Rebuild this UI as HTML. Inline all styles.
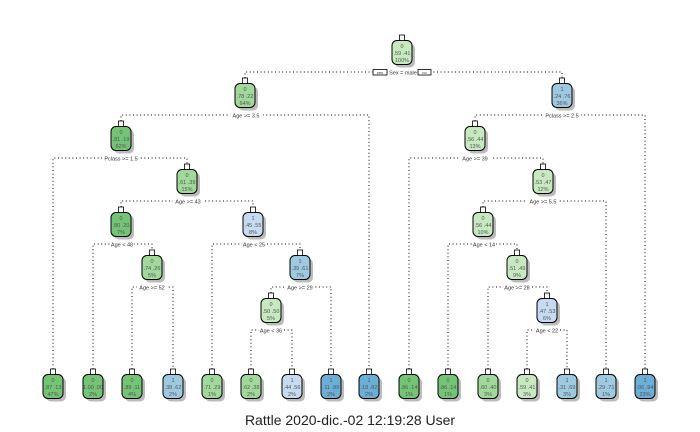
<!DOCTYPE html>
<html><head><meta charset="utf-8"><style>
html,body{margin:0;padding:0;background:#fff;width:700px;height:432px;overflow:hidden}
text{font-family:"Liberation Sans",sans-serif}
.t{font-size:5.5px;fill:#555;text-anchor:middle}
.s{font-size:5.5px;fill:#333;text-anchor:middle}
.e{fill:none;stroke:#000;stroke-width:1;stroke-dasharray:1 2.6}
</style></head><body>
<svg width="700" height="432" viewBox="0 0 700 432" xmlns="http://www.w3.org/2000/svg">
<defs>
<g id="n">
<rect x="-7" y="-8.5" width="20" height="24" rx="5" fill="#bbb"/>
<rect x="-10" y="-11.5" width="20" height="24" rx="5" stroke="#000" stroke-width="1"/>
<rect x="-2.5" y="-17" width="5" height="5.5" fill="#fff" stroke="#000" stroke-width="0.8"/>
</g>
</defs>
<g class="e">
<path d="M245 78V72H562V78"/>
<path d="M121 121V115H369V369"/>
<path d="M475 121V115H645V369"/>
<path d="M53 369V158H187V164"/>
<path d="M121 207V201H253V207"/>
<path d="M93 369V244H152V250"/>
<path d="M132 369V287H173V369"/>
<path d="M212 369V244H300V250"/>
<path d="M271 293V287H331V369"/>
<path d="M251 369V330H292V369"/>
<path d="M409 369V158H543V164"/>
<path d="M483 207V201H606V369"/>
<path d="M448 369V244H517V250"/>
<path d="M488 369V287H547V293"/>
<path d="M527 369V330H567V369"/>
</g>
<g>
<rect x="373" y="69.5" width="14" height="5.5" fill="#fff" stroke="#000" stroke-width="0.8"/>
<rect x="418" y="69.5" width="13" height="5.5" fill="#fff" stroke="#000" stroke-width="0.8"/>
<rect x="389" y="69" width="28" height="7" fill="#fff"/>
<text class="s" x="403" y="74.5">Sex = male</text>
<text x="380" y="74" style="font-size:4px;text-anchor:middle" fill="#333">yes</text>
<text x="424.5" y="74" style="font-size:4px;text-anchor:middle" fill="#333">no</text>
</g>
<g>
<rect x="229" y="112" width="34" height="7" fill="#fff"/><text class="s" x="246" y="117.5">Age &gt;= 3.5</text>
<rect x="543" y="112" width="38" height="7" fill="#fff"/><text class="s" x="562" y="117.5">Pclass &gt;= 2.5</text>
<rect x="102" y="155" width="38" height="7" fill="#fff"/><text class="s" x="121" y="160.5">Pclass &gt;= 1.5</text>
<rect x="459" y="155" width="32" height="7" fill="#fff"/><text class="s" x="475" y="160.5">Age &gt;= 39</text>
<rect x="173" y="198" width="30" height="7" fill="#fff"/><text class="s" x="188" y="203.5">Age &gt;= 43</text>
<rect x="527" y="198" width="32" height="7" fill="#fff"/><text class="s" x="543" y="203.5">Age &gt;= 5.5</text>
<rect x="110" y="241" width="24" height="7" fill="#fff"/><text class="s" x="122" y="246.5">Age &lt; 48</text>
<rect x="242" y="241" width="24" height="7" fill="#fff"/><text class="s" x="254" y="246.5">Age &lt; 25</text>
<rect x="472" y="241" width="24" height="7" fill="#fff"/><text class="s" x="484" y="246.5">Age &lt; 14</text>
<rect x="137" y="284" width="30" height="7" fill="#fff"/><text class="s" x="152" y="289.5">Age &gt;= 52</text>
<rect x="285" y="284" width="30" height="7" fill="#fff"/><text class="s" x="300" y="289.5">Age &gt;= 29</text>
<rect x="502" y="284" width="30" height="7" fill="#fff"/><text class="s" x="517" y="289.5">Age &gt;= 28</text>
<rect x="259" y="327" width="24" height="7" fill="#fff"/><text class="s" x="271" y="332.5">Age &lt; 36</text>
<rect x="535" y="327" width="24" height="7" fill="#fff"/><text class="s" x="547" y="332.5">Age &lt; 22</text>
</g>
<g transform="translate(402,52)"><use href="#n" fill="#c7e9c0"/><text class="t" y="-4">0</text><text class="t" y="3">.59 .41</text><text class="t" y="10">100%</text></g>
<g transform="translate(245,95)"><use href="#n" fill="#a1d99b"/><text class="t" y="-4">0</text><text class="t" y="3">.78 .22</text><text class="t" y="10">64%</text></g>
<g transform="translate(562,95)"><use href="#n" fill="#9ecae1"/><text class="t" y="-4">1</text><text class="t" y="3">.24 .76</text><text class="t" y="10">36%</text></g>
<g transform="translate(121,138)"><use href="#n" fill="#74c476"/><text class="t" y="-4">0</text><text class="t" y="3">.81 .19</text><text class="t" y="10">62%</text></g>
<g transform="translate(475,138)"><use href="#n" fill="#c7e9c0"/><text class="t" y="-4">0</text><text class="t" y="3">.56 .44</text><text class="t" y="10">13%</text></g>
<g transform="translate(187,181)"><use href="#n" fill="#a1d99b"/><text class="t" y="-4">0</text><text class="t" y="3">.61 .39</text><text class="t" y="10">15%</text></g>
<g transform="translate(543,181)"><use href="#n" fill="#c7e9c0"/><text class="t" y="-4">0</text><text class="t" y="3">.53 .47</text><text class="t" y="10">12%</text></g>
<g transform="translate(121,224)"><use href="#n" fill="#74c476"/><text class="t" y="-4">0</text><text class="t" y="3">.80 .20</text><text class="t" y="10">7%</text></g>
<g transform="translate(253,224)"><use href="#n" fill="#c6dbef"/><text class="t" y="-4">1</text><text class="t" y="3">.45 .55</text><text class="t" y="10">8%</text></g>
<g transform="translate(483,224)"><use href="#n" fill="#c7e9c0"/><text class="t" y="-4">0</text><text class="t" y="3">.56 .44</text><text class="t" y="10">10%</text></g>
<g transform="translate(152,267)"><use href="#n" fill="#a1d99b"/><text class="t" y="-4">0</text><text class="t" y="3">.74 .26</text><text class="t" y="10">5%</text></g>
<g transform="translate(300,267)"><use href="#n" fill="#9ecae1"/><text class="t" y="-4">1</text><text class="t" y="3">.39 .61</text><text class="t" y="10">7%</text></g>
<g transform="translate(517,267)"><use href="#n" fill="#c7e9c0"/><text class="t" y="-4">0</text><text class="t" y="3">.51 .49</text><text class="t" y="10">9%</text></g>
<g transform="translate(271,310)"><use href="#n" fill="#c7e9c0"/><text class="t" y="-4">0</text><text class="t" y="3">.50 .50</text><text class="t" y="10">5%</text></g>
<g transform="translate(547,310)"><use href="#n" fill="#c6dbef"/><text class="t" y="-4">1</text><text class="t" y="3">.47 .53</text><text class="t" y="10">6%</text></g>
<g transform="translate(53,386)"><use href="#n" fill="#74c476"/><text class="t" y="-4">0</text><text class="t" y="3">.87 .13</text><text class="t" y="10">47%</text></g>
<g transform="translate(93,386)"><use href="#n" fill="#74c476"/><text class="t" y="-4">0</text><text class="t" y="3">1.00 .00</text><text class="t" y="10">2%</text></g>
<g transform="translate(132,386)"><use href="#n" fill="#74c476"/><text class="t" y="-4">0</text><text class="t" y="3">.89 .11</text><text class="t" y="10">4%</text></g>
<g transform="translate(173,386)"><use href="#n" fill="#9ecae1"/><text class="t" y="-4">1</text><text class="t" y="3">.38 .62</text><text class="t" y="10">2%</text></g>
<g transform="translate(212,386)"><use href="#n" fill="#a1d99b"/><text class="t" y="-4">0</text><text class="t" y="3">.71 .29</text><text class="t" y="10">1%</text></g>
<g transform="translate(251,386)"><use href="#n" fill="#a1d99b"/><text class="t" y="-4">0</text><text class="t" y="3">.62 .38</text><text class="t" y="10">2%</text></g>
<g transform="translate(292,386)"><use href="#n" fill="#c6dbef"/><text class="t" y="-4">1</text><text class="t" y="3">.44 .56</text><text class="t" y="10">2%</text></g>
<g transform="translate(331,386)"><use href="#n" fill="#6baed6"/><text class="t" y="-4">1</text><text class="t" y="3">.11 .89</text><text class="t" y="10">2%</text></g>
<g transform="translate(369,386)"><use href="#n" fill="#6baed6"/><text class="t" y="-4">1</text><text class="t" y="3">.18 .82</text><text class="t" y="10">2%</text></g>
<g transform="translate(409,386)"><use href="#n" fill="#74c476"/><text class="t" y="-4">0</text><text class="t" y="3">.86 .14</text><text class="t" y="10">1%</text></g>
<g transform="translate(448,386)"><use href="#n" fill="#74c476"/><text class="t" y="-4">0</text><text class="t" y="3">.86 .14</text><text class="t" y="10">1%</text></g>
<g transform="translate(488,386)"><use href="#n" fill="#a1d99b"/><text class="t" y="-4">0</text><text class="t" y="3">.60 .40</text><text class="t" y="10">3%</text></g>
<g transform="translate(527,386)"><use href="#n" fill="#c7e9c0"/><text class="t" y="-4">0</text><text class="t" y="3">.59 .41</text><text class="t" y="10">3%</text></g>
<g transform="translate(567,386)"><use href="#n" fill="#9ecae1"/><text class="t" y="-4">1</text><text class="t" y="3">.31 .69</text><text class="t" y="10">3%</text></g>
<g transform="translate(606,386)"><use href="#n" fill="#9ecae1"/><text class="t" y="-4">1</text><text class="t" y="3">.29 .71</text><text class="t" y="10">1%</text></g>
<g transform="translate(645,386)"><use href="#n" fill="#6baed6"/><text class="t" y="-4">1</text><text class="t" y="3">.06 .94</text><text class="t" y="10">23%</text></g>
<text x="350" y="425" style="font-size:14px;text-anchor:middle" fill="#222">Rattle 2020-dic.-02 12:19:28 User</text>
</svg>
</body></html>
